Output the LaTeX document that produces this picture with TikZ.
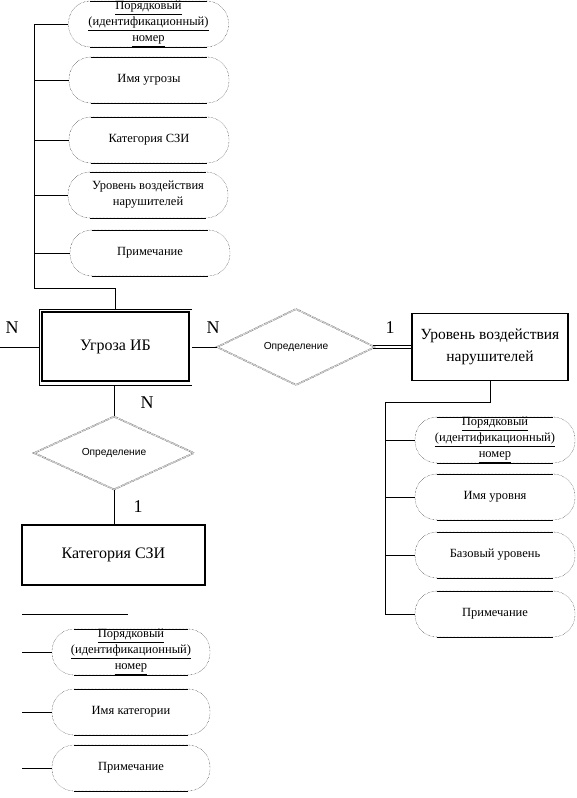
\documentclass[tikz,border=0pt]{standalone}
\usepackage{fontspec}
\setmainfont{Liberation Serif}
\newfontfamily\sansf{Liberation Sans}
\usetikzlibrary{shapes.geometric,calc}
\begin{document}
\begin{tikzpicture}[x=1pt,y=-1pt,
  attr/.style={rectangle,rounded corners=22pt,draw,densely dotted,minimum width=160pt,minimum height=46pt,inner sep=0pt,align=center,font=\fontsize{12.5}{16}\selectfont},
  entity/.style={rectangle,draw,line width=1.5pt,inner sep=0pt,align=center,font=\fontsize{15.5}{22}\selectfont},
  dia/.style={diamond,draw=black!75,line width=0.35pt,double=white,double distance=0.9pt,dash pattern=on 0.7pt off 0.7pt,inner sep=0pt,aspect=2,font=\sansf\fontsize{10.2}{12}\selectfont},
  card/.style={font=\fontsize{18}{18}\selectfont,inner sep=0pt},
  conn/.style={draw,line width=0.6pt}]
\useasboundingbox (0,0) rectangle (577,798);

% top attributes
\node[attr] (t1) at (148.5,24) {\underline{Порядковый}\\\underline{(идентификационный)}\\\underline{номер}};
\node[attr] (t2) at (149,80) {Имя угрозы};
\node[attr] (t3) at (149,140) {Категория СЗИ};
\node[attr] (t4) at (148,195) {Уровень воздействия\\нарушителей};
\node[attr] (t5) at (150,253) {Примечание};

% right attributes
\node[attr] (r1) at (495,440) {\underline{Порядковый}\\\underline{(идентификационный)}\\\underline{номер}};
\node[attr] (r2) at (495,497) {Имя уровня};
\node[attr] (r3) at (495,555) {Базовый уровень};
\node[attr] (r4) at (495,614) {Примечание};

% bottom attributes
\node[attr,minimum width=158pt] (b1) at (131,652) {\underline{Порядковый}\\\underline{(идентификационный)}\\\underline{номер}};
\node[attr,minimum width=158pt] (b2) at (131,712) {Имя категории};
\node[attr,minimum width=158pt] (b3) at (131,768) {Примечание};

\foreach \n in {t1,t2,t3,t4,t5,r1,r2,r3,r4,b1,b2,b3}
  \draw[line width=0.5pt] ($(\n.north west)+(22,0)$) -- ($(\n.north east)+(-22,0)$)
                          ($(\n.south west)+(22,0)$) -- ($(\n.south east)+(-22,0)$);

% entity Угроза ИБ (double border)
\node[draw=none,minimum width=153pt,minimum height=76pt,inner sep=0pt,font=\fontsize{16}{22}\selectfont] (ug) at (115.5,347) {Угроза ИБ};
\draw[line width=0.6pt] (ug.north east) -- (ug.north west) -- (ug.south west) -- (ug.south east);
\draw[line width=1.6pt] ($(ug.north west)+(3,3)$) rectangle ($(ug.south east)+(-3,-4)$);

% entity Уровень воздействия нарушителей
\node[entity,minimum width=156pt,minimum height=67pt] (ur) at (490,347) {Уровень воздействия\\нарушителей};

% entity Категория СЗИ
\node[entity,line width=1.8pt,minimum width=183pt,minimum height=60pt,font=\fontsize{16}{22}\selectfont] (kat) at (113.5,555) {Категория СЗИ};

% relationships
\node[dia,minimum width=158pt,minimum height=76pt] (d1) at (296,347) {Определение};
\node[dia,minimum width=160pt,minimum height=73pt] (d2) at (114,453) {Определение};

% connectors: top tree
\coordinate (tb) at (34,288);
\draw[conn] (t1.west) -| (tb) -| (ug.north);
\foreach \n in {t2,t3,t4,t5} \draw[conn] (\n.west) -- (\n.west -| tb);

% left stub
\coordinate (lft) at (0,347);
\draw[conn] (ug.west) -- (lft);

% relationships connectors
\draw[conn] (ug.east) -- (d1.west);
\draw[line width=0.6pt] ($(d1.east)+(-2,-1.5)$) -- ($(ur.west)+(0,-1.5)$)
                        ($(d1.east)+(-2,1.5)$) -- ($(ur.west)+(0,1.5)$);
\draw[conn] (d2.north) -- (d2.north |- ug.south);
\draw[conn] (d2.south) -- (d2.south |- kat.north);

% right tree
\coordinate (rb) at (385,402);
\draw[conn] (ur.south) |- (rb) |- (r4.west);
\foreach \n in {r1,r2,r3} \draw[conn] (\n.west) -- (\n.west -| rb);

% bottom stubs
\coordinate (s1) at (22,614);
\coordinate (s2) at (128,614);
\draw[conn] (s1) -- (s2);
\coordinate (bx) at (22,700);
\foreach \n in {b1,b2,b3} \draw[conn] (\n.west) -- (\n.west -| bx);

% cardinalities
\node[card] (nL) at (12,328) {N};
\node[card] (nR) at (213,328) {N};
\node[card] (oR) at (390,328) {1};
\node[card] (nD) at (147,403) {N};
\node[card] (oD) at (138,507) {1};
\end{tikzpicture}
\end{document}
